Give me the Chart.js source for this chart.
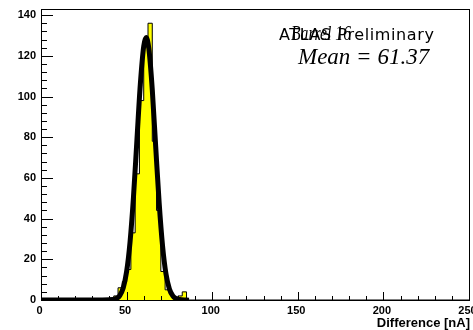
<!DOCTYPE html>
<html>
<head>
<meta charset="utf-8">
<script src="https://cdn.jsdelivr.net/npm/chart.js@4.4.0/dist/chart.umd.min.js"></script>
<style>
    html, body { margin: 0; padding: 0; background: #fff; }
    #wrap { width: 473px; height: 330px; position: relative; }
</style>
</head>
<body>
<div id="wrap"><canvas id="histChart"></canvas></div>
<script>
// histogram: lower bin edges (bin width 2.5 nA) and entries
const binLow = [37.5, 40, 42.5, 45, 47.5, 50, 52.5, 55, 57.5, 60, 62.5, 65, 67.5, 70, 72.5, 75, 77.5, 80, 82.5, 85];
const binCounts = [0, 1, 2, 6, 9, 15, 33, 62, 98, 126, 136, 78, 44, 14, 5, 3, 1, 2, 4, 0];

// gaussian fit
const fitX = [0, 30, 40, 44, 46, 48, 50, 52, 54, 56, 58, 60, 61.4, 63, 65, 67, 69, 71, 73, 75, 77, 79, 81, 85];
const fitY = [0, 0, 0.1, 0.7, 2.2, 5.9, 13.9, 28.4, 50.4, 78.2, 105.8, 124.7, 129, 123.5, 103.3, 75.3, 47.9, 26.6, 12.8, 5.4, 2.0, 0.6, 0.2, 0];

// axis ticks
const xMajor = [0, 50, 100, 150, 200, 250];
const yMajor = [0, 20, 40, 60, 80, 100, 120, 140];
const xMax = 250;
const yMax = 143;

// each point holds a bin's content from its low edge on (stepped 'before')
const histPoints = [{ x: 0, y: 0 }];
binLow.forEach((lo, i) => histPoints.push({ x: lo, y: binCounts[i] }));
histPoints.push({ x: xMax, y: 0 });

const fitPoints = fitX.map((x, i) => ({ x: x, y: fitY[i] }));

const rootFrame = {
    id: 'rootFrame',
    afterDraw(chart) {
        const ctx = chart.ctx;
        const a = chart.chartArea;
        const xs = chart.scales.x;
        const ys = chart.scales.y;
        ctx.save();
        ctx.strokeStyle = '#000';
        ctx.lineWidth = 1;
        ctx.strokeRect(Math.round(a.left) + 0.5, Math.round(a.top) + 0.5,
            Math.round(a.right - a.left), Math.round(a.bottom - a.top));

        // y ticks (inside, on left)
        ctx.beginPath();
        for (let v = 0; v <= yMax; v += 4) {
            const py = Math.round(ys.getPixelForValue(v)) + 0.5;
            const len = v % 20 === 0 ? 12 : 6;
            ctx.moveTo(a.left, py);
            ctx.lineTo(a.left + len, py);
        }
        // x ticks (inside, on bottom)
        for (let v = 0; v <= xMax; v += 10) {
            const px = Math.round(xs.getPixelForValue(v)) + 0.5;
            const len = v % 50 === 0 ? 8 : 4;
            ctx.moveTo(px, a.bottom);
            ctx.lineTo(px, a.bottom - len);
        }
        ctx.stroke();

        ctx.fillStyle = '#000';
        ctx.font = 'bold 11px "Liberation Sans", Arial, sans-serif';
        ctx.textAlign = 'right';
        ctx.textBaseline = 'middle';
        yMajor.forEach(v => ctx.fillText(String(v), a.left - 5, ys.getPixelForValue(v)));
        ctx.textAlign = 'center';
        ctx.textBaseline = 'top';
        xMajor.forEach(v => ctx.fillText(String(v), xs.getPixelForValue(v) - 1.5, a.bottom + 5));

        ctx.font = 'bold 13px "Liberation Sans", Arial, sans-serif';
        ctx.textAlign = 'right';
        ctx.textBaseline = 'alphabetic';
        ctx.fillText('Difference [nA]', 470, 327);

        ctx.textAlign = 'left';
        ctx.font = '16px "DejaVu Sans", sans-serif';
        ctx.letterSpacing = '0.6px';
        ctx.fillText('ATLAS Preliminary', 279, 40, 156);
        ctx.letterSpacing = '0px';
        ctx.font = 'italic 21px "Liberation Serif", "Times New Roman", serif';
        ctx.fillText('Barrel 16', 291, 40, 60);
        ctx.font = 'italic 23px "Liberation Serif", "Times New Roman", serif';
        ctx.fillText('Mean = 61.37', 298, 64, 136);
        ctx.restore();
    }
};

new Chart(document.getElementById('histChart'), {
    type: 'line',
    data: {
        datasets: [
            {
                label: 'fit',
                data: fitPoints,
                borderColor: '#000',
                borderWidth: 5,
                pointRadius: 0,
                fill: false,
                cubicInterpolationMode: 'monotone',
                borderCapStyle: 'square',
                order: 1
            },
            {
                label: 'hist',
                data: histPoints,
                stepped: 'before',
                borderColor: '#000',
                borderWidth: 1,
                backgroundColor: '#ffff00',
                fill: 'origin',
                pointRadius: 0,
                order: 2
            }
        ]
    },
    options: {
        responsive: true,
        maintainAspectRatio: false,
        animation: false,
        layout: { padding: { left: 41, top: 9, right: 4, bottom: 30 } },
        plugins: { legend: { display: false }, tooltip: { enabled: false } },
        scales: {
            x: { type: 'linear', min: 0, max: xMax, display: false },
            y: { type: 'linear', min: 0, max: yMax, display: false }
        }
    },
    plugins: [rootFrame]
});
</script>
</body>
</html>
